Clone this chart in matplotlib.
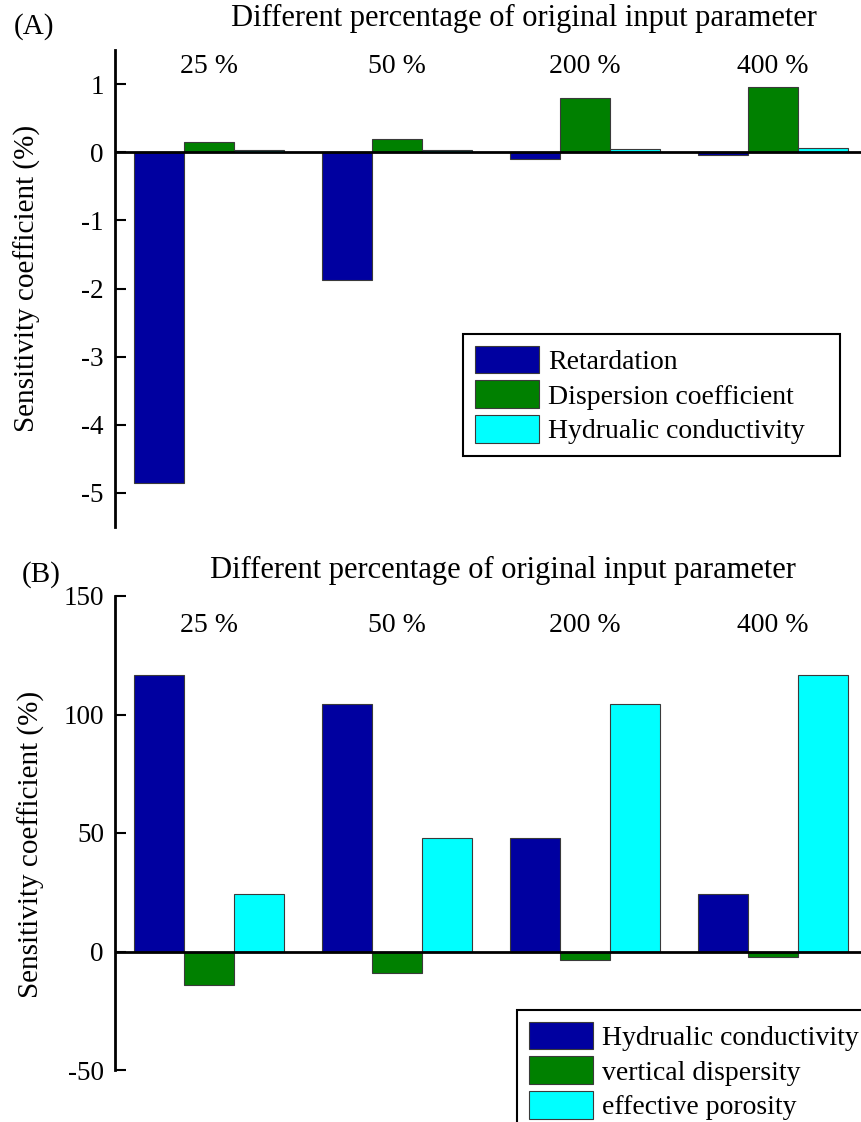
import numpy as np
import matplotlib
matplotlib.use("Agg")
import matplotlib.pyplot as plt

# bar groups along the x axis
groups = ["25 %", "50 %", "200 %", "400 %"]

# panel A: sensitivity coefficients (%)
a_labels = ["Retardation", "Dispersion coefficient", "Hydrualic conductivity"]
a_retardation = [-4.85, -1.88, -0.10, -0.04]
a_dispersion = [0.15, 0.20, 0.80, 0.96]
a_conductivity = [0.03, 0.03, 0.05, 0.06]

# panel B: sensitivity coefficients (%)
b_labels = ["Hydrualic conductivity", "vertical dispersity", "effective porosity"]
b_conductivity = [116.5, 104.6, 47.7, 24.3]
b_dispersity = [-14.0, -9.0, -3.4, -2.2]
b_porosity = [24.3, 47.7, 104.6, 116.5]

colors = ["#0000A0", "#008000", "#00FFFF"]
plt.rcParams["font.family"] = ["Liberation Serif", "DejaVu Serif"]
plt.rcParams["axes.unicode_minus"] = False
FS_TICK = 19.5
FS_GROUP = 20
FS_LEG = 20
FS_TITLE = 22
FS_YLAB = 21

W, H = 861, 1122
fig = plt.figure(figsize=(W / 100, H / 100), dpi=100)


def px_axes(left, top, right, bottom):
    return fig.add_axes([left / W, 1 - bottom / H, (right - left) / W, (bottom - top) / H])


def draw_panel(ax, series, labels, ylim, yticks, label_y, legend_box, expand):
    x = np.arange(1, len(groups) + 1)
    width = 0.266
    for i, (vals, lab) in enumerate(zip(series, labels)):
        ax.bar(x + (i - 1) * width, vals, width, color=colors[i],
               edgecolor="#3a3a3a", linewidth=0.8, label=lab, zorder=2)
    ax.axhline(0, color="black", linewidth=2, zorder=3)
    ax.set_xlim(0.5, 0.5 + 746 / 188)
    ax.set_ylim(*ylim)
    ax.set_yticks(yticks)
    ax.set_xticks([])
    for s in ["top", "right", "bottom"]:
        ax.spines[s].set_visible(False)
    ax.spines["left"].set_linewidth(2)
    ax.tick_params(axis="y", direction="in", length=8, width=1.5, labelsize=FS_TICK, pad=8)
    for xi, g in zip(x, groups):
        ax.text(xi, label_y, g, ha="center", va="center", fontsize=FS_GROUP)
    leg = ax.legend(loc="upper left", bbox_to_anchor=legend_box, borderaxespad=0,
                    mode="expand" if expand else None,
                    fontsize=FS_LEG, fancybox=False, framealpha=1, edgecolor="black",
                    handlelength=2.3, handleheight=1.15, labelspacing=0.2,
                    handletextpad=0.35, borderpad=0.42)
    leg.get_frame().set_linewidth(1.5)
    leg.set_clip_on(False)


ax_a = px_axes(115, 50, W, 527)
draw_panel(ax_a, [a_retardation, a_dispersion, a_conductivity], a_labels,
           (-5.5, 1.5), [-5, -4, -3, -2, -1, 0, 1], 1.26,
           ((463 - 115) / 746, (527 - 452) / 477, 377 / 746, (452 - 334) / 477), True)

ax_b = px_axes(115, 596, W, 1070)
draw_panel(ax_b, [b_conductivity, b_dispersity, b_porosity], b_labels,
           (-50, 150), [-50, 0, 50, 100, 150], 137.5,
           ((517 - 115) / 746, (1070 - 1010) / 474), False)

title = "Different percentage of original input parameter"
fig.text(524 / W, 1 - 18 / H, title, ha="center", va="center", fontsize=FS_TITLE)
fig.text(503 / W, 1 - 570 / H, title, ha="center", va="center", fontsize=FS_TITLE)
fig.text(14 / W, 1 - 27 / H, "(A)", ha="left", va="center", fontsize=21)
fig.text(22 / W, 1 - 575 / H, "(B)", ha="left", va="center", fontsize=21)

ylab = "Sensitivity coefficient (%)"
fig.text(27 / W, 1 - 278 / H, ylab, rotation=90, ha="center", va="center", fontsize=FS_YLAB)
fig.text(31 / W, 1 - 844 / H, ylab, rotation=90, ha="center", va="center", fontsize=FS_YLAB)

fig.savefig("out.png", dpi=100)
